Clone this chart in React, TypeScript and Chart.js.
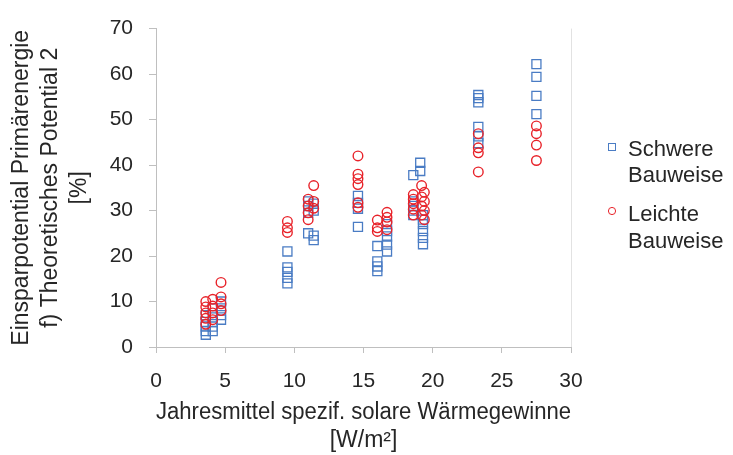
import React, { useEffect, useRef } from "react";
import { Chart, registerables } from "chart.js";

Chart.register(...registerables);

// Schwere Bauweise (squares)
const heavyX = [
  3.6, 3.6, 3.6, 3.6, 3.6,
  4.1, 4.1, 4.1, 4.1, 4.1,
  4.7, 4.7, 4.7, 4.7,
  9.5, 9.5, 9.5, 9.5, 9.5,
  11.0, 11.0, 11.0, 11.0,
  11.4, 11.4, 11.4, 11.4,
  14.6, 14.6, 14.6, 14.6,
  16.0, 16.0, 16.0, 16.0,
  16.7, 16.7, 16.7, 16.7, 16.7,
  18.6, 18.6, 18.6, 18.6, 18.6,
  19.1, 19.1,
  19.3, 19.3, 19.3, 19.3, 19.3, 19.3,
  23.3, 23.3, 23.3, 23.3, 23.3, 23.3,
  27.5, 27.5, 27.5, 27.5,
];
const heavyY = [
  2.7, 3.5, 4.5, 5.5, 7,
  3.5, 4.5, 5.5, 7, 8.5,
  6, 7, 8.5, 10,
  14, 15.2, 16.5, 17.5, 21,
  25, 29.5, 31, 32,
  23.5, 24.5, 30, 31.5,
  26.4, 30.4, 31.7, 33.2,
  16.7, 17.7, 18.8, 22.2,
  21, 22.5, 24.3, 25.5, 27,
  29, 30, 31, 32, 37.8,
  38.7, 40.5,
  22.6, 24, 25.5, 27, 28, 29,
  44.8, 46.3, 48.4, 53.8, 54.7, 55.4,
  51.2, 55.2, 59.4, 62.2,
];

// Leichte Bauweise (circles)
const lightX = [
  3.6, 3.6, 3.6, 3.6, 3.6,
  4.1, 4.1, 4.1, 4.1,
  4.7, 4.7, 4.7, 4.7,
  9.5, 9.5, 9.5,
  11.0, 11.0, 11.0, 11.0,
  11.4, 11.4, 11.4,
  14.6, 14.6, 14.6, 14.6, 14.6, 14.6,
  16.0, 16.0, 16.0,
  16.7, 16.7, 16.7, 16.7,
  18.6, 18.6, 18.6, 18.6, 18.6,
  19.2, 19.2, 19.2, 19.2,
  19.4, 19.4, 19.4, 19.4,
  23.3, 23.3, 23.3, 23.3,
  27.5, 27.5, 27.5, 27.5,
];
const lightY = [
  5, 6.3, 7.5, 8.8, 10,
  6, 7.5, 9, 10.5,
  8, 9.5, 11, 14.2,
  25.2, 26.2, 27.6,
  28, 29.5, 31, 32.5,
  30.5, 32, 35.5,
  30.7, 31.7, 35.7, 37, 38, 42,
  25.4, 26.2, 27.9,
  25.8, 27.5, 28.5, 29.6,
  29, 30.3, 31.5, 32.5, 33.5,
  29, 31, 33, 35.5,
  28, 30, 32, 34,
  38.5, 42.7, 43.8, 46.9,
  41, 44.4, 46.9, 48.6,
];

const xTicks = [0, 5, 10, 15, 20, 25, 30];
const yTicks = [0, 10, 20, 30, 40, 50, 60, 70];
const legendLabels = [["Schwere", "Bauweise"], ["Leichte", "Bauweise"]];
const yTitle = ["Einsparpotential Primärenergie", "f) Theoretisches Potential 2", "[%]"];
const xTitle = ["Jahresmittel spezif. solare Wärmegewinne", "[W/m²]"];

const BLUE = "#4a7cc4";
const RED = "#e8232a";
const TEXT = "#262626";
const AXIS = "#bfbfbf";
const FONT = "'Liberation Sans', Arial, sans-serif";

const legendPlugin = {
  id: "customLegend",
  afterDraw(chart: any) {
    const ctx = chart.ctx;
    ctx.save();
    ctx.font = `22px ${FONT}`;
    ctx.fillStyle = TEXT;
    ctx.textBaseline = "middle";
    ctx.textAlign = "left";
    const tx = 628;
    const ys = [[150, 176], [215, 242]];
    ctx.lineWidth = 1;
    ctx.strokeStyle = BLUE;
    ctx.strokeRect(608.5, 143.5, 7, 7);
    ctx.strokeStyle = RED;
    ctx.beginPath();
    ctx.arc(612, 211, 3.6, 0, Math.PI * 2);
    ctx.stroke();
    legendLabels.forEach((lines, i) => {
      lines.forEach((l, j) => ctx.fillText(l, tx, ys[i][j]));
    });
    ctx.restore();
  },
};

export default function App() {
  const ref = useRef<HTMLCanvasElement>(null);
  useEffect(() => {
    if (!ref.current) return;
    const chart = new Chart(ref.current, {
      type: "scatter",
      data: {
        datasets: [
          {
            label: "Schwere Bauweise",
            data: heavyX.map((x, i) => ({ x, y: heavyY[i] })),
            pointStyle: "rect",
            pointRadius: 6.4,
            borderColor: BLUE,
            backgroundColor: "rgba(0,0,0,0)",
            borderWidth: 1.3,
            order: 2,
          },
          {
            label: "Leichte Bauweise",
            data: lightX.map((x, i) => ({ x, y: lightY[i] })),
            pointStyle: "circle",
            pointRadius: 4.8,
            borderColor: RED,
            backgroundColor: "rgba(0,0,0,0)",
            borderWidth: 1.4,
            order: 1,
          },
        ],
      },
      options: {
        responsive: false,
        animation: false,
        layout: { padding: { top: 16, right: 162, bottom: 0, left: 0 } },
        plugins: { legend: { display: false }, tooltip: { enabled: false } },
        scales: {
          x: {
            type: "linear",
            min: 0,
            max: 30,
            afterBuildTicks: (s: any) => {
              s.ticks = xTicks.map((v) => ({ value: v }));
            },
            afterFit: (s: any) => {
              s.height = 108;
            },
            border: { color: AXIS, width: 1 },
            grid: {
              drawOnChartArea: true,
              color: (c: any) => (c.tick && c.tick.value === 30 ? "#e2e2e2" : "rgba(0,0,0,0)"),
              tickColor: AXIS,
              tickLength: 6,
            },
            ticks: {
              padding: 16,
              color: TEXT,
              font: { family: FONT, size: 21 },
              maxRotation: 0,
            },
            title: {
              display: true,
              text: xTitle,
              color: TEXT,
              font: { family: FONT, size: 23, lineHeight: 1.22 },
              padding: { top: 0, bottom: 0 },
            },
          },
          y: {
            type: "linear",
            min: 0,
            max: 70,
            afterBuildTicks: (s: any) => {
              s.ticks = yTicks.map((v) => ({ value: v }));
            },
            afterFit: (s: any) => {
              s.width = 156;
            },
            border: { color: AXIS, width: 1 },
            grid: {
              drawOnChartArea: false,
              tickColor: AXIS,
              tickLength: 7,
            },
            ticks: {
              padding: 16,
              color: TEXT,
              font: { family: FONT, size: 21 },
            },
            title: {
              display: true,
              text: yTitle,
              color: TEXT,
              font: { family: FONT, size: 23, lineHeight: 1.26 },
              padding: { top: 7.5, bottom: 0 },
            },
          },
        },
      },
      plugins: [legendPlugin],
    });
    return () => chart.destroy();
  }, []);
  return (
    <div style={{ position: "fixed", left: 0, top: 0, width: 733, height: 455, background: "#fff" }}>
      <canvas ref={ref} width={733} height={455} style={{ display: "block" }} />
    </div>
  );
}
